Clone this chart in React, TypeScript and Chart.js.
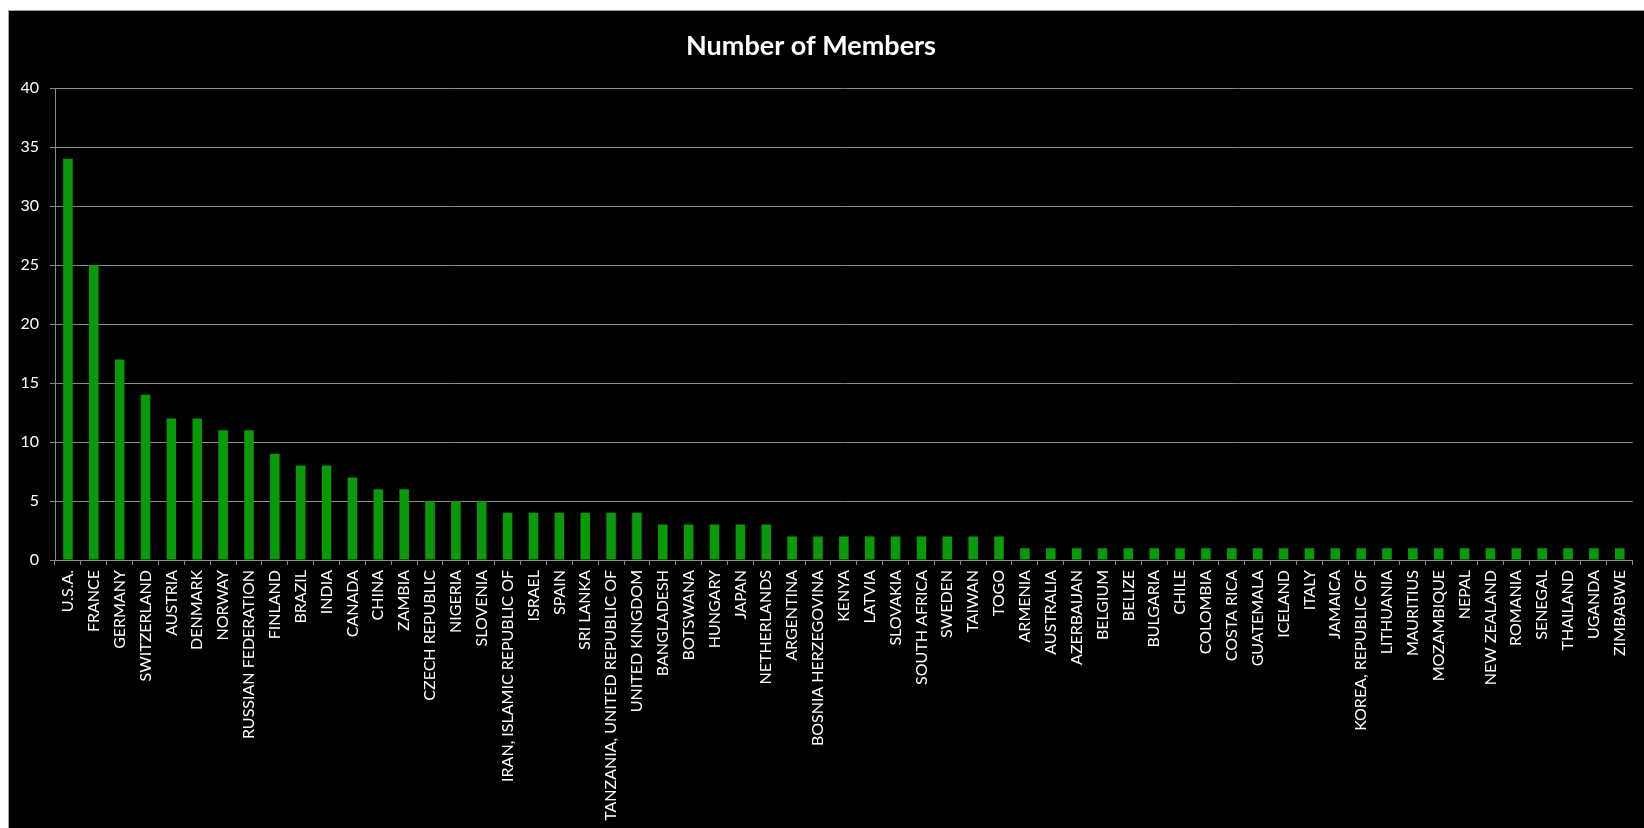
import React, { useEffect, useRef } from "react";
import { Chart, registerables } from "chart.js";

Chart.register(...registerables);

const countries: string[] = [
  "U.S.A.", "FRANCE", "GERMANY", "SWITZERLAND", "AUSTRIA", "DENMARK", "NORWAY",
  "RUSSIAN FEDERATION", "FINLAND", "BRAZIL", "INDIA", "CANADA", "CHINA", "ZAMBIA",
  "CZECH REPUBLIC", "NIGERIA", "SLOVENIA", "IRAN, ISLAMIC REPUBLIC OF", "ISRAEL",
  "SPAIN", "SRI LANKA", "TANZANIA, UNITED REPUBLIC OF", "UNITED KINGDOM",
  "BANGLADESH", "BOTSWANA", "HUNGARY", "JAPAN", "NETHERLANDS", "ARGENTINA",
  "BOSNIA HERZEGOVINA", "KENYA", "LATVIA", "SLOVAKIA", "SOUTH AFRICA", "SWEDEN",
  "TAIWAN", "TOGO", "ARMENIA", "AUSTRALIA", "AZERBAIJAN", "BELGIUM", "BELIZE",
  "BULGARIA", "CHILE", "COLOMBIA", "COSTA RICA", "GUATEMALA", "ICELAND", "ITALY",
  "JAMAICA", "KOREA, REPUBLIC OF", "LITHUANIA", "MAURITIUS", "MOZAMBIQUE", "NEPAL",
  "NEW ZEALAND", "ROMANIA", "SENEGAL", "THAILAND", "UGANDA", "ZIMBABWE",
];

const members: number[] = [
  34, 25, 17, 14, 12, 12, 11, 11, 9, 8, 8, 7, 6, 6,
  5, 5, 5, 4, 4, 4, 4, 4, 4,
  3, 3, 3, 3, 3,
  2, 2, 2, 2, 2, 2, 2, 2, 2,
  1, 1, 1, 1, 1, 1, 1, 1, 1, 1, 1, 1, 1, 1, 1, 1, 1, 1, 1, 1, 1, 1, 1, 1, 1,
];

const chartTitle = "Number of Members";
const yMin = 0;
const yMax = 40;
const yStep = 5;

const FONT = "Lato, 'Open Sans', sans-serif";

const titlePlugin = {
  id: "offsetTitle",
  afterDraw(chart: any) {
    const ctx = chart.ctx;
    ctx.save();
    ctx.fillStyle = "#ffffff";
    ctx.font = `bold 27px ${FONT}`;
    ctx.textAlign = "center";
    ctx.textBaseline = "alphabetic";
    ctx.fillText(chartTitle, 802, 44);
    ctx.restore();
  },
};

export default function App() {
  const canvasRef = useRef<HTMLCanvasElement | null>(null);

  useEffect(() => {
    if (!canvasRef.current) return;
    const chart = new Chart(canvasRef.current, {
      type: "bar",
      data: {
        labels: countries,
        datasets: [
          {
            label: chartTitle,
            data: members,
            backgroundColor: "#089a08",
            borderWidth: 0,
            categoryPercentage: 1,
            barPercentage: 0.37,
          },
        ],
      },
      plugins: [titlePlugin],
      options: {
        responsive: false,
        maintainAspectRatio: false,
        animation: false,
        layout: { padding: { left: 0, right: 3, top: 77, bottom: 0 } },
        plugins: {
          legend: { display: false },
          tooltip: { enabled: false },
          title: { display: false },
        },
        scales: {
          x: {
            afterFit: (s: any) => {
              s.height = 268;
            },
            grid: {
              display: true,
              drawOnChartArea: false,
              drawTicks: true,
              tickLength: 5,
              color: "#8a8a8a",
              offset: true,
            },
            border: { display: true, color: "#8a8a8a", width: 1 },
            ticks: {
              color: "#ffffff",
              autoSkip: false,
              maxRotation: 90,
              minRotation: 90,
              padding: 5,
              font: { family: FONT, size: 16 },
            },
          },
          y: {
            min: yMin,
            max: yMax,
            afterFit: (s: any) => {
              s.width = 46;
            },
            grid: {
              color: "#8a8a8a",
              drawTicks: true,
              tickLength: 5,
              lineWidth: 1,
            },
            border: { display: true, color: "#8a8a8a", width: 1 },
            ticks: {
              stepSize: yStep,
              color: "#ffffff",
              padding: 11,
              font: { family: FONT, size: 16 },
            },
          },
        },
      },
    });
    return () => chart.destroy();
  }, []);

  return (
    <div
      style={{
        position: "fixed",
        left: 8,
        top: 10,
        width: 1636,
        height: 818,
        boxSizing: "border-box",
        borderTop: "1px solid #a0a0a0",
        borderLeft: "1px solid #a0a0a0",
        background: "#000000",
        overflow: "hidden",
      }}
    >
      <canvas ref={canvasRef} width={1635} height={817} style={{ display: "block" }} />
    </div>
  );
}
